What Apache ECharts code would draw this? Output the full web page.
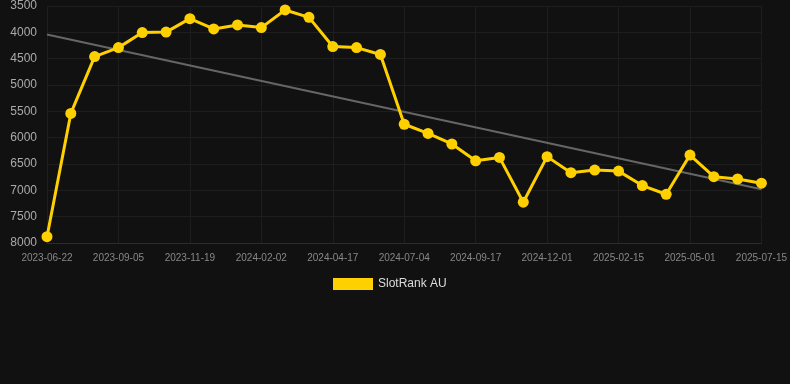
<!DOCTYPE html>
<html>
<head>
<meta charset="utf-8">
<script src="https://cdn.jsdelivr.net/npm/echarts@6/dist/echarts.min.js"></script>
<style>
html,body{margin:0;padding:0;background:#111111;}
#c{width:790px;height:384px;}
</style>
</head>
<body>
<div id="c"></div>
<script>
const dates = ['2023-06-22','2023-07-17','2023-08-11','2023-09-05','2023-09-30','2023-10-25','2023-11-19','2023-12-14','2024-01-08','2024-02-02','2024-02-27','2024-03-23','2024-04-17','2024-05-13','2024-06-08','2024-07-04','2024-07-29','2024-08-23','2024-09-17','2024-10-12','2024-11-06','2024-12-01','2024-12-27','2025-01-21','2025-02-15','2025-03-12','2025-04-06','2025-05-01','2025-05-26','2025-06-20','2025-07-15'];
const rankValues = [7880,5540,4460,4290,4005,3995,3740,3935,3860,3910,3575,3715,4270,4290,4420,5745,5920,6120,6440,6375,7225,6360,6665,6615,6635,6910,7075,6330,6740,6785,6865];
const trendEnds = [4040, 6980];
const seriesName = 'SlotRank AU';
const yTicks = {min:3500, max:8000, interval:500};

const trendData = dates.map((d,i)=> i===0 ? trendEnds[0] : (i===dates.length-1 ? trendEnds[1] : null));

const chart = echarts.init(document.getElementById('c'), null, {renderer:'canvas'});
chart.setOption({
  backgroundColor:'#111111',
  animation:false,
  grid:{left:47,right:28,top:6,bottom:141,containLabel:false},
  legend:{
    data:[seriesName],
    left:328, top:273,
    icon:'rect', itemWidth:40, itemHeight:12, itemGap:10,
    textStyle:{color:'#dddddd',fontSize:12,fontFamily:'Liberation Sans, Arial, sans-serif'}
  },
  xAxis:{
    type:'category',
    data:dates,
    boundaryGap:false,
    axisLine:{show:true,lineStyle:{color:'#2c2c2c'}},
    axisTick:{show:false},
    axisLabel:{interval:2,color:'#888888',fontSize:10,margin:10,fontFamily:'Liberation Sans, Arial, sans-serif'},
    splitLine:{show:true,interval:2,lineStyle:{color:'#1e1e1e',width:1}}
  },
  yAxis:{
    type:'value',
    inverse:true,
    min:yTicks.min,max:yTicks.max,interval:yTicks.interval,
    axisLine:{show:false},
    axisTick:{show:false},
    axisLabel:{color:'#aaaaaa',fontSize:12,margin:10,fontFamily:'Liberation Sans, Arial, sans-serif',formatter:v=>String(v)},
    splitLine:{show:true,lineStyle:{color:'#1e1e1e',width:1}}
  },
  series:[
    {
      name:'trend',
      type:'line',
      data:trendData,
      connectNulls:true,
      symbol:'none',
      lineStyle:{color:'#666666',width:2},
      z:1
    },
    {
      name:seriesName,
      type:'line',
      data:rankValues,
      symbol:'circle',
      symbolSize:11,
      lineStyle:{color:'#FFD000',width:3},
      itemStyle:{color:'#FFD000'},
      z:2
    }
  ]
});
</script>
</body>
</html>
